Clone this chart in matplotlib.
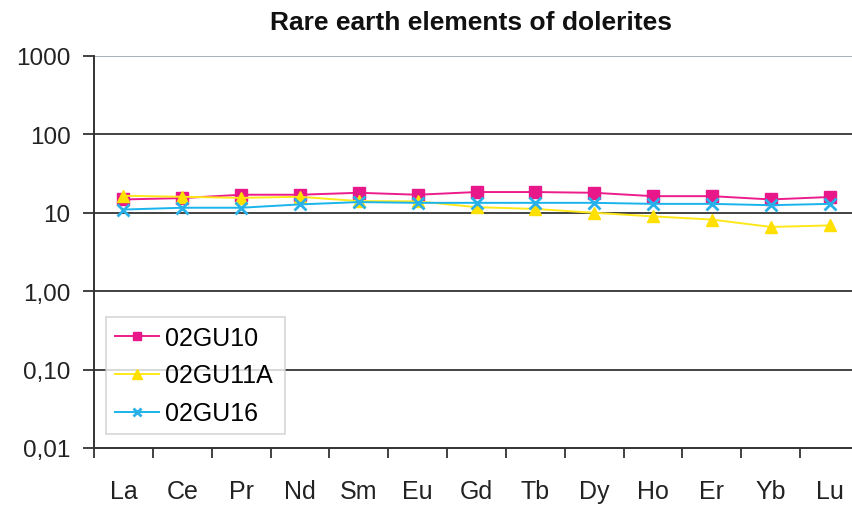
import matplotlib
matplotlib.use("Agg")
import matplotlib.pyplot as plt
from matplotlib.ticker import FixedLocator, NullLocator

plt.rcParams['font.family'] = ['Liberation Sans', 'DejaVu Sans']

elements = ["La", "Ce", "Pr", "Nd", "Sm", "Eu", "Gd", "Tb", "Dy", "Ho", "Er", "Yb", "Lu"]
gu10 = [14.8, 15.4, 17.0, 17.0, 18.0, 17.0, 18.4, 18.4, 18.0, 16.3, 16.3, 14.8, 15.9]
gu11a = [16.5, 16.0, 15.5, 16.0, 14.1, 14.0, 11.8, 11.2, 10.0, 9.0, 8.2, 6.6, 6.9]
gu16 = [11.0, 11.6, 11.6, 12.8, 13.7, 13.4, 13.4, 13.4, 13.4, 13.0, 13.0, 12.5, 13.0]
ytick_vals = [0.01, 0.1, 1, 10, 100, 1000]
ytick_labels = ["0,01", "0,10", "1,00", "10", "100", "1000"]
title = "Rare earth elements of dolerites"

W, H = 853, 506
fig = plt.figure(figsize=(W / 100, H / 100), dpi=100)
ax = fig.add_axes([94 / W, (H - 449) / H, 765 / W, (449 - 57) / H])

x = list(range(len(elements)))
ax.plot(x, gu10, color="#ec1c8c", lw=1.4, marker="s", ms=8, mec="#e8178a", mfc="#e8178a", label="02GU10")
ax.plot(x, gu11a, color="#ffe81a", lw=1.4, marker="^", ms=9, mec="#ffe000", mfc="#ffe000", label="02GU11A")
ax.plot(x, gu16, color="#1ab4ec", lw=1.4, marker="x", ms=8, mew=2, mec="#2ab0e8", label="02GU16")

ax.set_yscale("log")
ax.set_ylim(0.01, 1000)
ax.set_xlim(-0.5, len(elements) - 0.5)
ax.yaxis.set_major_locator(FixedLocator(ytick_vals))
ax.yaxis.set_minor_locator(NullLocator())
ax.set_yticklabels(ytick_labels)
ax.set_xticks(x)
ax.set_xticklabels(elements)
ax.set_xticks([i - 0.5 for i in range(len(elements) + 1)], minor=True)
ax.tick_params(axis="x", which="major", length=0, pad=22, labelsize=18, labelcolor="#222222")
ax.tick_params(axis="x", which="minor", length=7, width=1.3, color="#333333", direction="out")
ax.tick_params(axis="y", which="major", length=8, width=1.3, color="#333333", pad=9, labelsize=17.5, labelcolor="#222222")

for v in ytick_vals[1:-1]:
    ax.axhline(v, color="#222222", lw=1.2, zorder=0)
ax.axhline(1000, color="#9aa4b0", lw=1.2, zorder=0)

for s in ["top", "right"]:
    ax.spines[s].set_visible(False)
for s in ["left", "bottom"]:
    ax.spines[s].set_color("#333333")
    ax.spines[s].set_linewidth(1.4)

fig.text(0.552, 0.955, title, ha="center", va="center", fontsize=19, fontweight="bold", color="#111111")

leg = ax.legend(loc="lower left", bbox_to_anchor=(106 / W, (H - 435) / H, 179 / W, 117 / H),
                bbox_transform=fig.transFigure, mode="expand", fontsize=18, frameon=True,
                fancybox=False, edgecolor="#cccccc", handlelength=1.75, handletextpad=0.28,
                labelspacing=0.55, borderpad=0.35, borderaxespad=0, markerscale=0.8)
leg.get_frame().set_linewidth(1.2)

fig.savefig("out.png", dpi=100)
